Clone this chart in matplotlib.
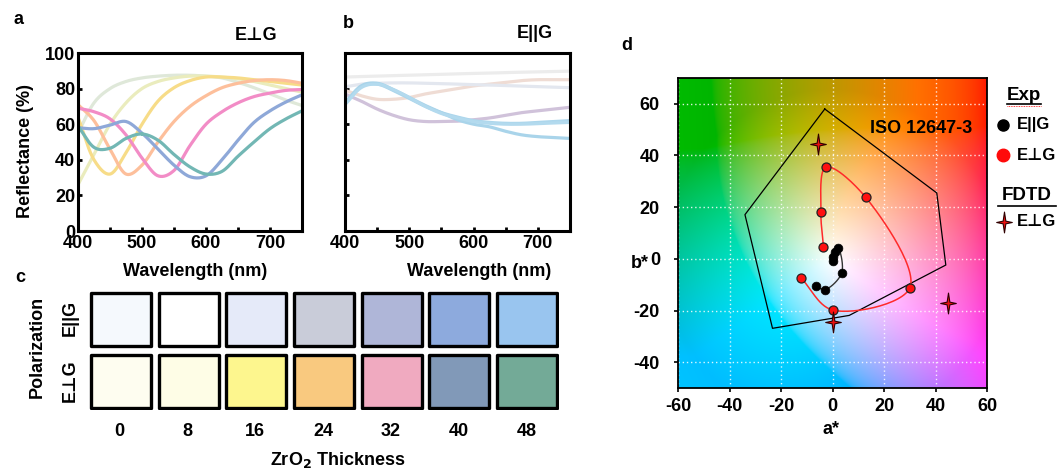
import numpy as np
import matplotlib
matplotlib.use('Agg')
import matplotlib.pyplot as plt
from matplotlib.patches import Rectangle
from matplotlib.path import Path

plt.rcParams['font.family'] = ['Liberation Sans', 'DejaVu Sans']
plt.rcParams['font.weight'] = 'bold'
plt.rcParams['mathtext.default'] = 'bf'
plt.rcParams['axes.unicode_minus'] = False

# ---------------- data ----------------
wavelength = [400, 425, 450, 475, 500, 525, 550, 575, 600, 625, 650, 675, 700, 725, 750]

# panel a : E perp G reflectance (%) for ZrO2 thickness 0..48
perp_0  = [55, 72, 80, 84, 86, 87, 87.5, 87.5, 87, 86, 83.5, 80.5, 77, 73.5, 70.5]
perp_8  = [26, 43, 60, 72, 80, 84, 86, 87, 87, 86.5, 85.5, 84, 82, 80, 78]
perp_16 = [64, 40, 32, 44, 60, 73, 80.5, 84.5, 86.5, 86.5, 86, 85, 84, 83, 82]
perp_24 = [71, 62, 46, 32, 37, 50, 61.5, 70, 76, 80.5, 83, 84.5, 85, 84.5, 83]
perp_32 = [69, 67, 63, 54, 41, 31, 34, 48, 60, 67, 72, 75.5, 77.5, 79, 79.5]
perp_40 = [58, 57.5, 59.5, 61.5, 55, 46, 37, 30.5, 31, 40, 51, 61, 67.5, 72.5, 76.5]
perp_48 = [59, 47, 46.5, 52, 54.5, 51, 43, 36, 32, 33.5, 42, 50, 57.5, 63, 67.5]
perp_series = [perp_0, perp_8, perp_16, perp_24, perp_32, perp_40, perp_48]
perp_colors = ['#dfe8d9', '#eaecbd', '#f7dc88', '#fdbf9b', '#f28cc6', '#8ea8d8', '#72b7b4']

# panel b : E parallel G reflectance (%)
par_0  = [86.5, 86.8, 87, 87.3, 87.5, 87.8, 88, 88.3, 88.5, 88.7, 89, 89.2, 89.4, 89.6, 89.8]
par_8  = [79, 76, 74, 74, 75, 77, 78.5, 80, 81.5, 82.5, 83.5, 84.5, 85, 85, 85]
par_16 = [81, 82.5, 83, 83.2, 83.2, 83, 82.8, 82.5, 82.2, 82, 81.7, 81.4, 81.1, 80.8, 80.5]
par_24 = [77, 73, 68.5, 65, 62.5, 61.5, 61.5, 61.7, 62.5, 63.5, 65, 66.5, 67.5, 68.5, 69.5]
par_32 = [72, 81, 82.5, 79, 74.5, 70, 66.5, 64, 62, 61, 60.5, 60.5, 61, 61.5, 62]
par_40 = [72, 81.5, 83, 79.5, 75, 70.5, 66.5, 62.5, 60, 58.5, 56, 54, 53, 52.5, 52]
par_48 = [71, 80.5, 82.5, 79.5, 75, 70, 66, 63.5, 61.5, 60.5, 60, 60, 60.3, 60.7, 61]
par_series = [par_0, par_8, par_16, par_24, par_32, par_40, par_48]
par_colors = ['#ececec', '#efdcd4', '#e3e7ef', '#d0c2da', '#acd6ec', '#a9d4ea', '#b3daee']

# panel c : photographs (colours)
thickness_labels = ['0', '8', '16', '24', '32', '40', '48']
swatch_par  = ['#f5f9fd', '#ffffff', '#e5eaf9', '#c9ccd9', '#afb6d8', '#8daadd', '#99c5ef']
swatch_perp = ['#fefdf0', '#fefde6', '#fdf68e', '#f9c97f', '#f0aac0', '#8199b8', '#73aa97']

# panel d : CIELAB coordinates
par_a  = [0.3, 0.3, 0.8, 2.2, 3.6, -2.9, -6.5]
par_b  = [-1.0, 0.8, 2.5, 4.0, -5.4, -11.9, -10.6]
perp_a = [-3.5, -4.5, -2.6, 12.9, 30.0, 0.0, -12.3]
perp_b = [4.5, 18.0, 35.5, 23.8, -11.3, -19.8, -7.3]
fdtd_a = [-5.8, 44.7, 0.0]
fdtd_b = [44.4, -17.0, -24.3]
iso_a = [-3.0, 40.5, 44.0, 6.5, -23.3, -34.0, -3.0]
iso_b = [58.0, 25.5, -2.4, -21.9, -26.9, 17.1, 58.0]


# ---------------- helpers ----------------
def smooth(x, y, n=24):
    P = np.column_stack([x, y]).astype(float)
    P = np.vstack([2 * P[0] - P[1], P, 2 * P[-1] - P[-2]])
    res = []
    for i in range(len(P) - 3):
        p0, p1, p2, p3 = P[i:i + 4]
        t0 = 0.0
        t1 = t0 + np.linalg.norm(p1 - p0) ** 0.5
        t2 = t1 + np.linalg.norm(p2 - p1) ** 0.5
        t3 = t2 + np.linalg.norm(p3 - p2) ** 0.5
        t = np.linspace(t1, t2, n)[:, None]
        A1 = (t1 - t) / (t1 - t0) * p0 + (t - t0) / (t1 - t0) * p1
        A2 = (t2 - t) / (t2 - t1) * p1 + (t - t1) / (t2 - t1) * p2
        A3 = (t3 - t) / (t3 - t2) * p2 + (t - t2) / (t3 - t2) * p3
        B1 = (t2 - t) / (t2 - t0) * A1 + (t - t0) / (t2 - t0) * A2
        B2 = (t3 - t) / (t3 - t1) * A2 + (t - t1) / (t3 - t1) * A3
        res.append((t2 - t) / (t2 - t1) * B1 + (t - t1) / (t2 - t1) * B2)
    R = np.vstack(res)
    return R[:, 0], R[:, 1]


def lab2rgb(L, a, b):
    fy = (L + 16) / 116.0
    fx = fy + a / 500.0
    fz = fy - b / 200.0
    d = 6 / 29.0
    finv = lambda t: np.where(t > d, t ** 3, 3 * d * d * (t - 4 / 29.0))
    X = 0.95047 * finv(fx)
    Y = finv(fy)
    Z = 1.08883 * finv(fz)
    r = 3.2406 * X - 1.5372 * Y - 0.4986 * Z
    g = -0.9689 * X + 1.8758 * Y + 0.0415 * Z
    bb = 0.0557 * X - 0.2040 * Y + 1.0570 * Z
    rgb = np.stack([r, g, bb], axis=-1)
    rgb = np.clip(rgb, 0, None)
    rgb = np.where(rgb > 0.0031308, 1.055 * rgb ** (1 / 2.4) - 0.055, 12.92 * rgb)
    return np.clip(rgb, 0, 1)


W, H = 1059, 469
fig = plt.figure(figsize=(W / 100, H / 100), dpi=100)


def box(x0, y0, x1, y1):
    return [x0 / W, 1 - y1 / H, (x1 - x0) / W, (y1 - y0) / H]


TF = 13

# ---------------- panel a & b ----------------
for k, (series, colors, rect) in enumerate([(perp_series, perp_colors, box(78, 53, 302, 231)),
                                             (par_series, par_colors, box(345, 53, 570, 231))]):
    ax = fig.add_axes(rect)
    for s, c in zip(series, colors):
        xs, ys = smooth(wavelength, s, 20)
        ax.plot(xs, ys, color=c, lw=2.3, solid_capstyle='round')
    ax.set_xlim(400, 750)
    ax.set_ylim(0, 100)
    ax.set_xticks([400, 500, 600, 700])
    ax.set_xticks([450, 550, 650], minor=True)
    ax.set_yticks([0, 20, 40, 60, 80, 100])
    ax.tick_params(which='both', direction='in', length=3, width=2, labelsize=TF, pad=3)
    ax.tick_params(axis='y', pad=2)
    for sp in ax.spines.values():
        sp.set_linewidth(2.2)
    if k == 1:
        ax.set_yticklabels([])
    for lbl in ax.get_xticklabels() + ax.get_yticklabels():
        lbl.set_fontweight('bold')

# ---------------- panel c ----------------
axc = fig.add_axes(box(89, 291, 559, 410))
pitch = 1.0
sw = 0.886
for i in range(7):
    axc.add_patch(Rectangle((i * pitch, 1.19), sw, 1.0, facecolor=swatch_par[i],
                            edgecolor='black', lw=2.4, joinstyle='round'))
    axc.add_patch(Rectangle((i * pitch, 0.0), sw, 1.0, facecolor=swatch_perp[i],
                            edgecolor='black', lw=2.4, joinstyle='round'))
axc.set_xlim(-0.03, 6 * pitch + sw + 0.03)
axc.set_ylim(-0.04, 2.23)
axc.axis('off')

# ---------------- panel d ----------------
axd = fig.add_axes(box(678, 78, 987, 388))
ga = np.linspace(-60, 60, 241)
gb = np.linspace(-50, 70, 241)
A, B = np.meshgrid(ga, gb)
C = np.hypot(A, B)
Lg = np.clip(100 - 0.55 * C, 64, 100)
img = lab2rgb(Lg, 1.5 * A, 1.5 * B)
axd.imshow(img, extent=(-60, 60, -50, 70), origin='lower', aspect='auto', interpolation='bilinear')
axd.set_xlim(-60, 60)
axd.set_ylim(-50, 70)
axd.set_xticks(range(-60, 61, 20))
axd.set_yticks(range(-40, 61, 20))
axd.grid(True, color='white', lw=1.0, ls=(0, (1, 2)), alpha=0.85)
axd.tick_params(direction='out', length=3, width=1.2, labelsize=TF)
axd.tick_params(axis='y', pad=10)
axd.tick_params(axis='x', pad=4)
for sp in axd.spines.values():
    sp.set_linewidth(1.3)
for lbl in axd.get_xticklabels() + axd.get_yticklabels():
    lbl.set_fontweight('bold')

axd.plot(iso_a, iso_b, color='black', lw=0.9)
xs, ys = smooth(perp_a, perp_b, 30)
axd.plot(xs, ys, color='#ff2a2a', lw=1.1)
xs, ys = smooth(par_a, par_b, 30)
axd.plot(xs, ys, color='#333333', lw=1.0)
axd.plot(par_a, par_b, 'o', color='black', ms=6.3, mec='black', mew=0.5)
axd.plot(perp_a, perp_b, 'o', color='#ff1010', ms=6.5, mec='#222222', mew=0.9)

star = Path([(0, 1), (0.13, 0.13), (0.75, 0), (0.13, -0.13), (0, -1), (-0.13, -0.13),
             (-0.75, 0), (-0.13, 0.13), (0, 1)],
            [Path.MOVETO] + [Path.LINETO] * 7 + [Path.CLOSEPOLY])
axd.plot(fdtd_a, fdtd_b, ls='none', marker=star, color='#e81010', ms=15, mec='#300000', mew=0.8)
axd.text(34.5, 50.5, 'ISO 12647-3', ha='center', va='center', fontsize=TF, fontweight='bold')

# ---------------- free text overlay (pixel coords) ----------------
ov = fig.add_axes([0, 0, 1, 1])
ov.set_xlim(0, W)
ov.set_ylim(H, 0)
ov.axis('off')


def t(x, y, s, size=TF, rot=0, ha='center', **kw):
    ov.text(x, y, s, ha=ha, va='center', fontsize=size, fontweight='bold', rotation=rot, **kw)


t(18, 20, 'a', 13)
t(348, 23, 'b', 13)
t(20, 277, 'c', 13)
t(627, 45, 'd', 13)
t(256, 35, 'E\u22a5G')
t(535, 34, 'E||G')
t(25, 151, 'Reflectance (%)', rot=90)
t(195, 271, 'Wavelength (nm)')
t(479, 271, 'Wavelength (nm)')
t(37, 347, 'Polarization', rot=90)
t(70, 318, 'E||G', rot=90)
t(70, 381, 'E\u22a5G', rot=90)
col_px = [119, 187, 255, 323, 391, 459, 527]
for xc, lab in zip(col_px, thickness_labels):
    t(xc, 432, lab)
t(338, 460, 'ZrO$_\\mathbf{2}$ Thickness')
t(640, 263, 'b*')
t(831, 430, 'a*')

# legend of panel d
LF = 12
t(1024, 95, 'Exp', 13.5)
ov.plot([1007, 1041], [104, 104], color='black', lw=1.2)
ov.plot([1007, 1041], [106, 106], color='red', lw=0.6, ls=(0, (1, 1)))
ov.plot([1003], [125], 'o', color='black', ms=8)
t(1017, 125, 'E||G', LF, ha='left')
ov.plot([1003], [155], 'o', color='#ff0a0a', ms=9)
t(1017, 155, 'E\u22a5G', LF, ha='left')
t(1027, 196, 'FDTD', 13.5)
ov.plot([998, 1056], [206, 206], color='black', lw=1.2)
ov.plot([1004], [222], ls='none', marker=star, color='#e81010', ms=15, mec='#300000', mew=0.8)
t(1017, 222, 'E\u22a5G', LF, ha='left')

fig.savefig('out.png', dpi=100)
